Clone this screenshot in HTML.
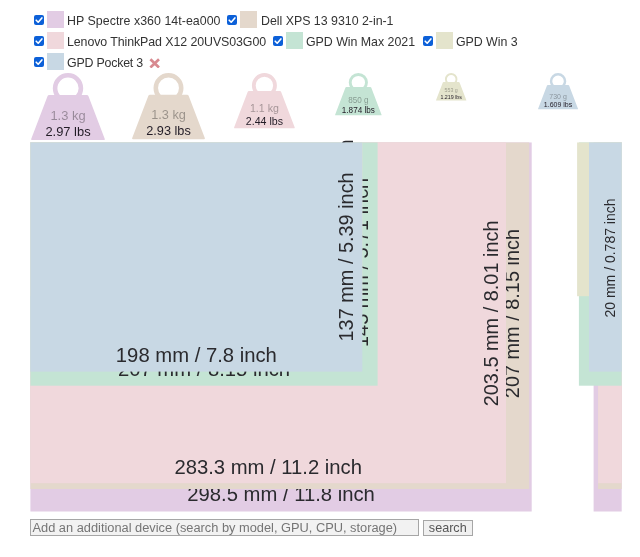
<!DOCTYPE html>
<html><head><meta charset="utf-8"><title>Size comparison</title>
<style>
html,body{margin:0;padding:0;background:#fff;}
body{width:640px;height:557px;position:relative;overflow:hidden;font-family:"Liberation Sans",sans-serif;color:#222;}
.leg{position:absolute;font-size:12.4px;line-height:17px;height:17px;white-space:nowrap;color:#333;}
.cb{position:absolute;width:10.2px;height:10.2px;border-radius:2px;background:#0c60d8;}
.cb svg{position:absolute;left:0;top:0;}
.sw{position:absolute;width:17px;height:17px;}
.wt{position:absolute;transform-origin:0 0;}
.wt svg{display:block;overflow:visible}
</style></head><body>

<span class="cb" style="left:33.8px;top:15.2px"><svg width="10" height="10" viewBox="0 0 10 10"><path d="M2.2 5.2 L4.2 7.2 L7.9 2.9" fill="none" stroke="#fff" stroke-width="1.6" stroke-linecap="round" stroke-linejoin="round"/></svg></span>
<span class="sw" style="left:47px;top:11px;background:#e2cce4"></span>
<span class="leg" style="left:67px;top:12.7px;letter-spacing:0.032px">HP Spectre x360 14t-ea000</span>
<span class="cb" style="left:226.8px;top:15.2px"><svg width="10" height="10" viewBox="0 0 10 10"><path d="M2.2 5.2 L4.2 7.2 L7.9 2.9" fill="none" stroke="#fff" stroke-width="1.6" stroke-linecap="round" stroke-linejoin="round"/></svg></span>
<span class="sw" style="left:240px;top:11px;background:#e4d8cc"></span>
<span class="leg" style="left:261px;top:12.7px;letter-spacing:-0.019px">Dell XPS 13 9310 2-in-1</span>
<span class="cb" style="left:33.8px;top:36.2px"><svg width="10" height="10" viewBox="0 0 10 10"><path d="M2.2 5.2 L4.2 7.2 L7.9 2.9" fill="none" stroke="#fff" stroke-width="1.6" stroke-linecap="round" stroke-linejoin="round"/></svg></span>
<span class="sw" style="left:47px;top:32px;background:#f0d8dc"></span>
<span class="leg" style="left:67px;top:33.7px;letter-spacing:-0.087px">Lenovo ThinkPad X12 20UVS03G00</span>
<span class="cb" style="left:272.8px;top:36.2px"><svg width="10" height="10" viewBox="0 0 10 10"><path d="M2.2 5.2 L4.2 7.2 L7.9 2.9" fill="none" stroke="#fff" stroke-width="1.6" stroke-linecap="round" stroke-linejoin="round"/></svg></span>
<span class="sw" style="left:286px;top:32px;background:#c4e4d4"></span>
<span class="leg" style="left:306px;top:33.7px;letter-spacing:-0.031px">GPD Win Max 2021</span>
<span class="cb" style="left:422.8px;top:36.2px"><svg width="10" height="10" viewBox="0 0 10 10"><path d="M2.2 5.2 L4.2 7.2 L7.9 2.9" fill="none" stroke="#fff" stroke-width="1.6" stroke-linecap="round" stroke-linejoin="round"/></svg></span>
<span class="sw" style="left:436px;top:32px;background:#e4e4cc"></span>
<span class="leg" style="left:456px;top:33.7px;letter-spacing:-0.052px">GPD Win 3</span>
<span class="cb" style="left:33.8px;top:57.2px"><svg width="10" height="10" viewBox="0 0 10 10"><path d="M2.2 5.2 L4.2 7.2 L7.9 2.9" fill="none" stroke="#fff" stroke-width="1.6" stroke-linecap="round" stroke-linejoin="round"/></svg></span>
<span class="sw" style="left:47px;top:53px;background:#c8d8e4"></span>
<span class="leg" style="left:67px;top:54.7px;letter-spacing:-0.21px">GPD Pocket 3</span>
<svg style="position:absolute;left:148.6px;top:57.7px" width="11.4" height="10.8" viewBox="0 0 11.4 10.8"><path d="M1.4 1.3 L10 9.5 M10 1.3 L1.4 9.5" fill="none" stroke="#d88a90" stroke-width="2.7" stroke-linecap="butt"/></svg>
<div class="wt" style="left:30.50px;top:72.5px;transform:scale(1.0000)"><svg width="74" height="67" viewBox="0 0 74 67"><circle cx="37" cy="15.2" r="12.9" fill="none" stroke="#e2cce4" stroke-width="4.6"/><path d="M18.2 22 H55.8 Q57 22 57.4 23.1 L73.8 66 Q74.2 67.1 73 67.1 H1 Q-0.2 67.1 0.2 66 L16.6 23.1 Q17 22 18.2 22 Z" fill="#e2cce4"/><text x="37" y="47.1" text-anchor="middle" font-family="Liberation Sans, sans-serif" font-size="12.9" fill="rgba(0,0,0,0.33)">1.3 kg</text><text x="37" y="62.8" text-anchor="middle" font-family="Liberation Sans, sans-serif" font-size="12.9" fill="#221c26">2.97 lbs</text></svg></div>
<div class="wt" style="left:132.19px;top:72.5px;transform:scale(0.9866)"><svg width="74" height="67" viewBox="0 0 74 67"><circle cx="37" cy="15.2" r="12.9" fill="none" stroke="#e4d8cc" stroke-width="4.6"/><path d="M18.2 22 H55.8 Q57 22 57.4 23.1 L73.8 66 Q74.2 67.1 73 67.1 H1 Q-0.2 67.1 0.2 66 L16.6 23.1 Q17 22 18.2 22 Z" fill="#e4d8cc"/><text x="37" y="47.1" text-anchor="middle" font-family="Liberation Sans, sans-serif" font-size="12.9" fill="rgba(0,0,0,0.33)">1.3 kg</text><text x="37" y="62.8" text-anchor="middle" font-family="Liberation Sans, sans-serif" font-size="12.9" fill="#221c26">2.93 lbs</text></svg></div>
<div class="wt" style="left:233.69px;top:72.5px;transform:scale(0.8218)"><svg width="74" height="67" viewBox="0 0 74 67"><circle cx="37" cy="15.2" r="12.9" fill="none" stroke="#f0d8dc" stroke-width="4.6"/><path d="M18.2 22 H55.8 Q57 22 57.4 23.1 L73.8 66 Q74.2 67.1 73 67.1 H1 Q-0.2 67.1 0.2 66 L16.6 23.1 Q17 22 18.2 22 Z" fill="#f0d8dc"/><text x="37" y="47.1" text-anchor="middle" font-family="Liberation Sans, sans-serif" font-size="12.9" fill="rgba(0,0,0,0.33)">1.1 kg</text><text x="37" y="62.8" text-anchor="middle" font-family="Liberation Sans, sans-serif" font-size="12.9" fill="#221c26">2.44 lbs</text></svg></div>
<div class="wt" style="left:334.65px;top:72.5px;transform:scale(0.6310)"><svg width="74" height="67" viewBox="0 0 74 67"><circle cx="37" cy="15.2" r="12.9" fill="none" stroke="#c4e4d4" stroke-width="4.6"/><path d="M18.2 22 H55.8 Q57 22 57.4 23.1 L73.8 66 Q74.2 67.1 73 67.1 H1 Q-0.2 67.1 0.2 66 L16.6 23.1 Q17 22 18.2 22 Z" fill="#c4e4d4"/><text x="37" y="47.1" text-anchor="middle" font-family="Liberation Sans, sans-serif" font-size="12.9" fill="rgba(0,0,0,0.33)">850 g</text><text x="37" y="62.8" text-anchor="middle" font-family="Liberation Sans, sans-serif" font-size="12.9" fill="#221c26">1.874 lbs</text></svg></div>
<div class="wt" style="left:436.31px;top:72.5px;transform:scale(0.4105)"><svg width="74" height="67" viewBox="0 0 74 67"><circle cx="37" cy="15.2" r="12.9" fill="none" stroke="#e4e4cc" stroke-width="4.6"/><path d="M18.2 22 H55.8 Q57 22 57.4 23.1 L73.8 66 Q74.2 67.1 73 67.1 H1 Q-0.2 67.1 0.2 66 L16.6 23.1 Q17 22 18.2 22 Z" fill="#e4e4cc"/><text x="37" y="47.1" text-anchor="middle" font-family="Liberation Sans, sans-serif" font-size="12.9" fill="rgba(0,0,0,0.33)">553 g</text><text x="37" y="62.8" text-anchor="middle" font-family="Liberation Sans, sans-serif" font-size="12.9" fill="#221c26">1.219 lbs</text></svg></div>
<div class="wt" style="left:537.95px;top:72.5px;transform:scale(0.5419)"><svg width="74" height="67" viewBox="0 0 74 67"><circle cx="37" cy="15.2" r="12.9" fill="none" stroke="#c8d8e4" stroke-width="4.6"/><path d="M18.2 22 H55.8 Q57 22 57.4 23.1 L73.8 66 Q74.2 67.1 73 67.1 H1 Q-0.2 67.1 0.2 66 L16.6 23.1 Q17 22 18.2 22 Z" fill="#c8d8e4"/><text x="37" y="47.1" text-anchor="middle" font-family="Liberation Sans, sans-serif" font-size="12.9" fill="rgba(0,0,0,0.33)">730 g</text><text x="37" y="62.8" text-anchor="middle" font-family="Liberation Sans, sans-serif" font-size="12.9" fill="#221c26">1.609 lbs</text></svg></div>
<svg style="position:absolute;left:0;top:0" width="640" height="557" viewBox="0 0 640 557">
<rect x="30.4" y="142.45" width="501.30" height="369.05" fill="#e2cce4"/><text x="281.05" y="501.4" text-anchor="middle" font-family="Liberation Sans, sans-serif" font-size="20.25" fill="#2a2a2e">298.5 mm / 11.8 inch</text><text transform="translate(523.2,327.0) rotate(-90)" text-anchor="middle" font-family="Liberation Sans, sans-serif" font-size="19.9" fill="#2a2a2e">220.4 mm / 8.68 inch</text>
<rect x="30.4" y="142.45" width="498.80" height="346.55" fill="#e4d8cc"/><text x="279.80" y="479.4" text-anchor="middle" font-family="Liberation Sans, sans-serif" font-size="20.25" fill="#2a2a2e">297 mm / 11.7 inch</text><text transform="translate(519.0,313.6) rotate(-90)" text-anchor="middle" font-family="Liberation Sans, sans-serif" font-size="19.9" fill="#2a2a2e">207 mm / 8.15 inch</text>
<rect x="30.4" y="142.45" width="475.60" height="340.75" fill="#f0d8dc"/><text x="268.20" y="473.9" text-anchor="middle" font-family="Liberation Sans, sans-serif" font-size="20.25" fill="#2a2a2e">283.3 mm / 11.2 inch</text><text transform="translate(498.3,313.4) rotate(-90)" text-anchor="middle" font-family="Liberation Sans, sans-serif" font-size="19.9" fill="#2a2a2e">203.5 mm / 8.01 inch</text>
<rect x="30.4" y="142.45" width="347.20" height="243.25" fill="#c4e4d4"/><text x="204.00" y="375.7" text-anchor="middle" font-family="Liberation Sans, sans-serif" font-size="20.25" fill="#2a2a2e">207 mm / 8.15 inch</text><text transform="translate(368.2,262.4) rotate(-90)" text-anchor="middle" font-family="Liberation Sans, sans-serif" font-size="19.9" fill="#2a2a2e">145 mm / 5.71 inch</text>
<rect x="30.4" y="142.45" width="331.90" height="153.75" fill="#e4e4cc"/><text x="196.35" y="286.7" text-anchor="middle" font-family="Liberation Sans, sans-serif" font-size="20.25" fill="#2a2a2e">198 mm / 7.8 inch</text><text transform="translate(353.4,218.5) rotate(-90)" text-anchor="middle" font-family="Liberation Sans, sans-serif" font-size="19.9" fill="#2a2a2e">92 mm / 3.62 inch</text>
<rect x="30.4" y="142.45" width="331.90" height="229.15" fill="#c8d8e4"/><text x="196.35" y="362.4" text-anchor="middle" font-family="Liberation Sans, sans-serif" font-size="20.25" fill="#2a2a2e">198 mm / 7.8 inch</text><text transform="translate(353.3,256.9) rotate(-90)" text-anchor="middle" font-family="Liberation Sans, sans-serif" font-size="19.9" fill="#2a2a2e">137 mm / 5.39 inch</text>
<rect x="593.6" y="142.45" width="28.10" height="369.05" fill="#e2cce4"/>
<rect x="598.0" y="142.45" width="23.70" height="346.55" fill="#e4d8cc"/>
<rect x="598.2" y="142.45" width="23.50" height="340.75" fill="#f0d8dc"/>
<rect x="578.9" y="142.45" width="42.80" height="243.25" fill="#c4e4d4"/>
<rect x="577.1" y="142.45" width="44.60" height="153.75" fill="#e4e4cc"/>
<rect x="589.0" y="142.45" width="32.70" height="229.15" fill="#c8d8e4"/>
<text transform="translate(615.4,258) rotate(-90)" text-anchor="middle" font-family="Liberation Sans, sans-serif" font-size="14" fill="#2a2a2e">20 mm / 0.787 inch</text>
</svg>
<div style="position:absolute;left:30px;top:519px;width:387px;height:15px;border:1px solid #a6a6a6;background:#f2f2f2;font-size:12.82px;line-height:15px;color:#757575;white-space:nowrap;overflow:hidden;"><span id="ph" style="padding-left:1.5px">Add an additional device (search by model, GPU, CPU, storage)</span></div>
<div style="position:absolute;left:423px;top:520px;width:47.5px;height:13.5px;border:1px solid #a6a6a6;background:#f0f0f0;font-size:12.6px;line-height:14px;color:#555;text-align:center;">search</div>
</body></html>
